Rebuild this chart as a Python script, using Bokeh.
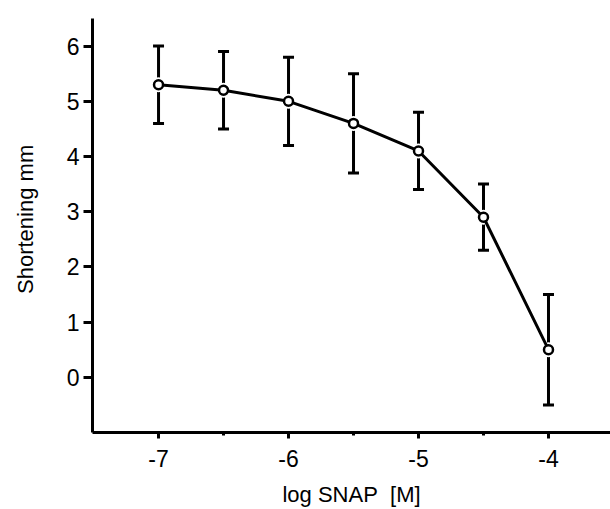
from bokeh.plotting import figure
from bokeh.models import ColumnDataSource, Whisker, TeeHead, FixedTicker, Range1d
from bokeh.embed import file_html
from bokeh.resources import INLINE

log_snap = [-7, -6.5, -6, -5.5, -5, -4.5, -4]
shortening = [5.3, 5.2, 5.0, 4.6, 4.1, 2.9, 0.5]
err_upper = [6.0, 5.9, 5.8, 5.5, 4.8, 3.5, 1.5]
err_lower = [4.6, 4.5, 4.2, 3.7, 3.4, 2.3, -0.5]
x_ticks = [-7, -6, -5, -4]
x_minor = [-6.5, -5.5, -4.5]
y_ticks = [0, 1, 2, 3, 4, 5, 6]

src = ColumnDataSource(dict(x=log_snap, y=shortening, up=err_upper, lo=err_lower))

p = figure(width=610, height=509, output_backend="svg", toolbar_location=None,
           x_range=Range1d(-7.508, -3.523), y_range=Range1d(-1.0, 6.5),
           min_border_left=92, min_border_right=0, min_border_top=18, min_border_bottom=74)
p.outline_line_color = None
p.grid.visible = False
p.background_fill_color = "white"
p.border_fill_color = "white"

font = "Liberation Sans"

for ax in (p.xaxis[0], p.yaxis[0]):
    ax.axis_line_width = 3
    ax.axis_line_color = "black"
    ax.major_tick_line_width = 3
    ax.minor_tick_line_width = 3
    ax.major_tick_in = 0
    ax.minor_tick_in = 0
    ax.major_label_text_font = font
    ax.major_label_text_font_size = "23px"
    ax.major_label_text_color = "black"
    ax.axis_label_text_font = font
    ax.axis_label_text_font_style = "normal"
    ax.axis_label_text_color = "black"

p.xaxis.ticker = FixedTicker(ticks=x_ticks, minor_ticks=x_minor)
p.xaxis.major_label_overrides = {t: str(t) for t in x_ticks}
p.xaxis.major_tick_out = 6
p.xaxis.minor_tick_out = 3
p.xaxis.major_label_standoff = 11
p.xaxis.axis_label = "log SNAP\u00a0 [M]"
p.xaxis.axis_label_text_font_size = "22px"
p.xaxis.axis_label_standoff = 12

p.yaxis.ticker = FixedTicker(ticks=y_ticks, minor_ticks=[])
p.yaxis.major_tick_out = 9
p.yaxis.minor_tick_out = 0
p.yaxis.major_label_standoff = 4
p.yaxis.axis_label = "\u00a0\u00a0Shortening mm"
p.yaxis.axis_label_text_font_size = "22px"
p.yaxis.axis_label_standoff = 26

p.add_layout(Whisker(source=src, base="x", upper="up", lower="lo", dimension="height",
                     line_width=3, line_color="black",
                     upper_head=TeeHead(size=11, line_width=3, line_color="black"),
                     lower_head=TeeHead(size=11, line_width=3, line_color="black")))

p.scatter("x", "y", source=src, size=15, fill_color="white", line_color=None)
p.line("x", "y", source=src, line_width=3, line_color="black")
p.scatter("x", "y", source=src, size=9, fill_color="white", line_color="black", line_width=2.5)

open("out.html", "w").write(file_html(p, INLINE))
